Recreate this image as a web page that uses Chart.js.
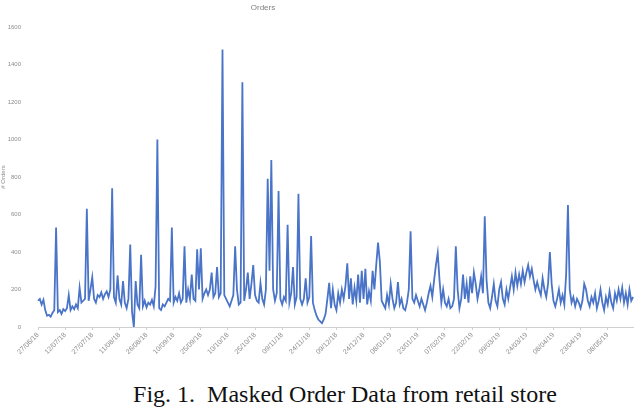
<!DOCTYPE html>
<html>
<head>
<meta charset="utf-8">
<script src="https://cdn.jsdelivr.net/npm/chart.js@4"></script>
<style>
  html, body { margin: 0; padding: 0; background: #fff; }
  #wrap { position: relative; width: 640px; height: 407px; overflow: hidden; }
  #chartBox { position: absolute; left: 0; top: 0; width: 640px; height: 370px; }
  #title { position: absolute; top: 3px; left: 263px; transform: translateX(-50%);
           font: 8px "Liberation Sans", Arial, sans-serif; color: #7f7f7f; }
  #caption { position: absolute; top: 382px; left: 0; width: 640px; padding-left: 50px; box-sizing: border-box;
             text-align: center; font: 24px/24px "Liberation Serif", "Times New Roman", serif; color: #111; white-space: pre; }
</style>
</head>
<body>
<div id="wrap">
  <div id="chartBox"><canvas id="ordersChart"></canvas></div>
  <div id="title">Orders</div>
  <div id="caption">Fig. 1.  Masked Order Data from retail store</div>
</div>
<script>
// daily order counts
const orders = [
  140, 150, 120, 145, 90, 60, 65, 55, 75, 90,
  530, 80, 90, 70, 95, 85, 100, 170, 90, 110,
  95, 120, 100, 210, 130, 140, 150, 630, 140, 200,
  265, 150, 130, 170, 160, 185, 150, 175, 190, 160,
  200, 740, 160, 130, 275, 150, 120, 245, 130, 100,
  150, 440, 80, 0, 245, 120, 100, 385, 110, 140,
  105, 130, 120, 145, 110, 215, 1000, 100, 90, 120,
  110, 130, 150, 140, 530, 130, 160, 140, 180, 130,
  150, 430, 130, 200, 150, 280, 150, 140, 415, 200,
  420, 150, 180, 200, 170, 200, 290, 160, 180, 320,
  160, 180, 1480, 170, 150, 130, 110, 140, 170, 430,
  200, 120, 130, 1305, 140, 200, 290, 150, 230, 330,
  170, 140, 130, 235, 150, 120, 200, 790, 300, 890,
  200, 140, 180, 725, 150, 120, 160, 140, 545, 130,
  180, 320, 120, 160, 710, 150, 120, 150, 260, 130,
  160, 485, 130, 90, 60, 40, 30, 20, 40, 70,
  150, 235, 100, 200, 120, 90, 180, 130, 200, 150,
  220, 340, 150, 260, 120, 210, 140, 280, 130, 300,
  150, 310, 120, 190, 140, 300, 200, 330, 450, 350,
  140, 120, 100, 170, 120, 230, 150, 100, 130, 240,
  120, 150, 100, 90, 130, 200, 510, 150, 130, 170,
  140, 110, 150, 120, 90, 130, 180, 220, 160, 250,
  330, 395, 250, 130, 200, 130, 110, 150, 100, 110,
  150, 430, 200, 100, 150, 280, 150, 230, 130, 270,
  180, 290, 230, 150, 200, 270, 180, 590, 250, 130,
  100, 160, 230, 140, 110, 200, 240, 150, 120, 200,
  150, 210, 270, 200, 290, 220, 280, 230, 300, 240,
  290, 330, 270, 310, 250, 200, 240, 200, 170, 260,
  200, 160, 230, 400, 230, 140, 110, 150, 200, 130,
  170, 120, 280, 650, 200, 130, 160, 110, 150, 130,
  100, 140, 230, 200, 140, 110, 160, 130, 180, 100,
  140, 200, 130, 90, 160, 120, 190, 130, 100, 180,
  140, 200, 150, 210, 130, 180, 120, 200, 140, 160
];

const startDate = '2018-06-27';
const labelEvery = 15;
const yTicks = [0, 200, 400, 600, 800, 1000, 1200, 1400, 1600];

function fmt(d) {
  const dd = String(d.getUTCDate()).padStart(2, '0');
  const mm = String(d.getUTCMonth() + 1).padStart(2, '0');
  const yy = String(d.getUTCFullYear()).slice(2);
  return dd + '/' + mm + '/' + yy;
}

const days = [];
const d0 = new Date(startDate + 'T00:00:00Z');
for (let i = 0; i < orders.length; i++) {
  const d = new Date(d0.getTime() + i * 86400000);
  days.push(fmt(d));
}

const ctx = document.getElementById('ordersChart').getContext('2d');
new Chart(ctx, {
  type: 'line',
  data: {
    labels: days,
    datasets: [{
      label: 'Orders',
      data: orders,
      borderColor: '#4a74c8',
      borderWidth: 1.8,
      pointRadius: 0,
      tension: 0,
      fill: false
    }]
  },
  options: {
    responsive: true,
    maintainAspectRatio: false,
    animation: false,
    layout: { padding: { top: 27, right: 5, left: 0, bottom: 0 } },
    plugins: {
      legend: { display: false },
      title: { display: false },
      tooltip: { enabled: false }
    },
    scales: {
      x: {
        type: 'category',
        offset: false,
        afterFit: function (scale) { scale.height = 43; },
        border: { display: true, color: '#d0d0d0', dash: [2, 2] },
        grid: {
          drawOnChartArea: false,
          tickLength: 3,
          color: function (c) { return c.index % labelEvery === 0 ? '#d0d0d0' : 'rgba(0,0,0,0)'; }
        },
        ticks: {
          autoSkip: false,
          maxRotation: 45,
          minRotation: 45,
          padding: 1,
          color: '#8c8c8c',
          font: { family: 'Liberation Sans', size: 7 },
          callback: function (val, idx) {
            return idx % labelEvery === 0 ? this.getLabelForValue(val) : '';
          }
        }
      },
      y: {
        min: 0,
        max: 1600,
        afterFit: function (scale) { scale.width = 38; },
        afterBuildTicks: function (scale) { scale.ticks = yTicks.map(v => ({ value: v })); },
        border: { display: false },
        grid: { display: false },
        ticks: {
          padding: 9,
          color: '#8c8c8c',
          font: { family: 'Liberation Sans', size: 6 },
          callback: function (v) { return String(v); }
        },
        title: {
          display: true,
          text: '# Orders',
          color: '#8c8c8c',
          padding: 0,
          font: { family: 'Liberation Sans', size: 6 }
        }
      }
    }
  }
});
</script>
</body>
</html>
